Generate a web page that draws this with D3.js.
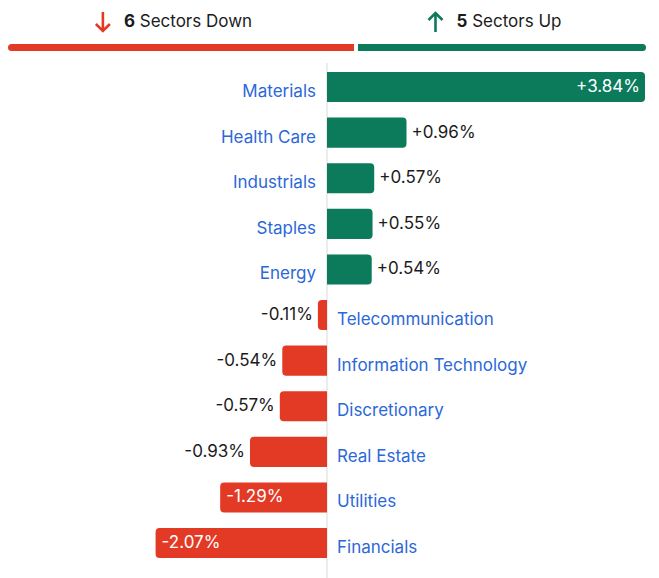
<!DOCTYPE html>
<html>
<head>
<meta charset="utf-8">
<script src="https://cdn.jsdelivr.net/npm/d3@7"></script>
<style>
  body { margin: 0; background: #fff; }
  svg { display: block; font-family: Inter, "Noto Sans", sans-serif; }
</style>
</head>
<body>
<svg id="chart" width="659" height="578"></svg>
<script>
var sectors = ['Materials', 'Health Care', 'Industrials', 'Staples', 'Energy', 'Telecommunication',
    'Information Technology', 'Discretionary', 'Real Estate', 'Utilities', 'Financials'];
var changes = [3.84, 0.96, 0.57, 0.55, 0.54, -0.11, -0.54, -0.57, -0.93, -1.29, -2.07];

var green = '#0b7b5b';
var red = '#e33a25';
var blue = '#2b68d9';
var dark = '#1b1b1b';

var svg = d3.select('#chart');
var data = sectors.map(function (s, i) { return { name: s, value: changes[i] }; });
var nDown = changes.filter(function (v) { return v < 0; }).length;
var nUp = changes.filter(function (v) { return v > 0; }).length;

// header summary bar
var summary = d3.scaleLinear().domain([0, nDown + nUp]).range([8, 646]);
var gap = 2;
svg.append('rect')
    .attr('x', summary(0)).attr('y', 44)
    .attr('width', summary(nDown) - summary(0) - gap).attr('height', 7)
    .attr('rx', 3.5).attr('fill', red);
svg.append('rect')
    .attr('x', summary(nDown) + gap).attr('y', 44)
    .attr('width', summary(nDown + nUp) - summary(nDown) - gap).attr('height', 7)
    .attr('rx', 3.5).attr('fill', green);
// square off the inner ends
svg.append('rect').attr('x', summary(nDown) - gap - 4).attr('y', 44).attr('width', 4).attr('height', 7).attr('fill', red);
svg.append('rect').attr('x', summary(nDown) + gap).attr('y', 44).attr('width', 4).attr('height', 7).attr('fill', green);

function header(cx, count, label, color, up) {
    var g = svg.append('g');
    var t = g.append('text')
        .attr('y', 27)
        .attr('font-size', 17)
        .attr('fill', dark);
    t.append('tspan').attr('font-weight', 700).text(count);
    t.append('tspan').text(' ' + label);
    var w = t.node().getComputedTextLength();
    var total = w + 28;
    var x0 = cx - total / 2;
    t.attr('x', x0 + 28);
    var ax = x0 + 7;
    var arrow = up
        ? 'M' + ax + ',32 L' + ax + ',13 M' + (ax - 7) + ',20 L' + ax + ',13 L' + (ax + 7) + ',20'
        : 'M' + ax + ',12 L' + ax + ',31 M' + (ax - 7) + ',24 L' + ax + ',31 L' + (ax + 7) + ',24';
    g.append('path').attr('d', arrow)
        .attr('fill', 'none').attr('stroke', color).attr('stroke-width', 2.6)
        .attr('stroke-linecap', 'butt').attr('stroke-linejoin', 'miter');
}
header(174, nDown, 'Sectors Down', red, false);
header(495, nUp, 'Sectors Up', green, true);

// main chart
var x = d3.scaleLinear().domain([0, 3.84]).range([327, 645]);
var y = d3.scaleBand().domain(sectors).range([64.25, 565.85]).paddingInner(0.34).paddingOuter(0.17);

svg.append('line')
    .attr('x1', x(0)).attr('x2', x(0))
    .attr('y1', 63).attr('y2', 578)
    .attr('stroke', '#d9d9d9').attr('stroke-width', 1);

function barPath(d) {
    var x0 = x(0), x1 = x(d.value);
    var top = y(d.name), h = y.bandwidth(), r = 4;
    var s = d.value >= 0 ? -1 : 1;
    var p = d3.path();
    p.moveTo(x0, top);
    p.lineTo(x1 + s * r, top);
    p.arcTo(x1, top, x1, top + r, r);
    p.lineTo(x1, top + h - r);
    p.arcTo(x1, top + h, x1 + s * r, top + h, r);
    p.lineTo(x0, top + h);
    p.closePath();
    return p.toString();
}

var rows = svg.selectAll('.row').data(data).enter().append('g').attr('class', 'row');

rows.append('path')
    .attr('d', barPath)
    .attr('fill', function (d) { return d.value >= 0 ? green : red; });

function fmt(v) { return (v > 0 ? '+' : '') + v.toFixed(2) + '%'; }
function inside(d) { return Math.abs(d.value) > 1; }

// value labels
rows.append('text')
    .attr('font-size', 17)
    .attr('dy', '0.35em')
    .attr('y', function (d) { return y(d.name) + y.bandwidth() / 2 - 1; })
    .attr('x', function (d) {
        if (d.value >= 0) return inside(d) ? x(d.value) - 5 : x(d.value) + 5;
        return inside(d) ? x(d.value) + 6 : x(d.value) - 5;
    })
    .attr('text-anchor', function (d) {
        if (d.value >= 0) return inside(d) ? 'end' : 'start';
        return inside(d) ? 'start' : 'end';
    })
    .attr('fill', function (d) { return inside(d) ? '#fff' : dark; })
    .text(function (d) { return fmt(d.value); });

// category labels
rows.append('text')
    .attr('font-size', 17)
    .attr('dy', '0.35em')
    .attr('y', function (d) { return y(d.name) + y.bandwidth() / 2 + 4; })
    .attr('x', function (d) { return d.value >= 0 ? 316 : 337; })
    .attr('text-anchor', function (d) { return d.value >= 0 ? 'end' : 'start'; })
    .attr('fill', blue)
    .text(function (d) { return d.name; });
</script>
</body>
</html>
